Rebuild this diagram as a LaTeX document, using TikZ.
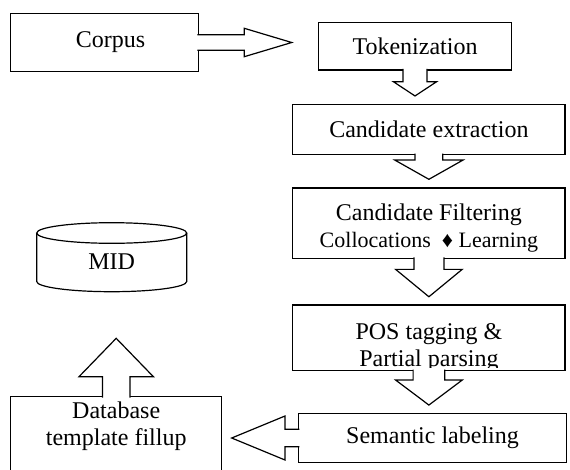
\documentclass[tikz,border=0pt]{standalone}
\usepackage{fontspec}
\setmainfont{Liberation Serif}

\tikzset{
  stepbox/.style={draw, line width=1.2pt, inner sep=0pt, outer sep=0pt, align=center},
  blockbody/.style={draw, line width=1.2pt, fill=white, line join=miter},
  every node/.style={font=\fontsize{24}{26.7}\selectfont, align=center}
}

% block arrow: start, angle, length, head length, half shaft, half head
\newcommand{\blockarrow}[6]{%
  \draw[blockbody, shift={(#1)}, rotate=#2]
    (-1,-#5) -- (#3-#4,-#5) -- (#3-#4,-#6) -- (#3,0)
    -- (#3-#4,#6) -- (#3-#4,#5) -- (-1,#5);
}

\begin{document}
\begin{tikzpicture}[x=1pt, y=-1pt]
\useasboundingbox (0,0) rectangle (570,469);
\clip (0,0) rectangle (570,469);

% steps
\node[stepbox, minimum width=187.6pt, minimum height=58.4pt] (corpus) at (104.5,42.5) {};
\node (corpusText) at ([xshift=6pt]corpus.center) {Corpus};
\node[stepbox, minimum width=193.4pt, minimum height=47.3pt] (tok) at (415,46.3) {Tokenization};
\node[stepbox, minimum width=272.3pt, minimum height=49.8pt] (cand) at (428.9,129.6) {Candidate extraction};
\node[stepbox, minimum width=272.3pt, minimum height=70.3pt] (filt) at (428.9,223.2) {};
\node (filtText) at ([yshift=-4.8pt]filt.center) {Candidate Filtering\\{\fontsize{22}{24}\selectfont Collocations\enspace♦~Learning}};
\node[stepbox, minimum width=272.3pt, minimum height=65.5pt] (pos) at (428.9,337.8) {};
\begin{scope}
  \clip (pos.north west) rectangle ([yshift=3.5pt]pos.south east);
  \node (posText) at ([yshift=-9.5pt]pos.center) {POS tagging \&\\Partial parsing};
\end{scope}
\node[stepbox, minimum width=268.4pt, minimum height=49.4pt] (sem) at (432.5,438) {Semantic labeling};
\node[stepbox, minimum width=211pt, minimum height=90pt, anchor=north] (db) at (116.2,396.7) {};
\node (dbText) at (116.2,426.5) {Database\\template fillup};

% MID store
\draw[line width=1.2pt] (36.7,233) -- (36.7,281.5)
  arc[start angle=180, end angle=0, x radius=75, y radius=10.2] -- (186.7,233);
\draw[line width=1.2pt] (111.7,233) ellipse[x radius=75, y radius=10.3];
\node (mid) at (111.7,261.7) {MID};

% block arrows
\blockarrow{corpus.east}{0}{93.4}{47.4}{7.8}{14.2}
\blockarrow{tok.south}{-90}{26}{14.3}{12}{21.7}
\blockarrow{cand.south}{-90}{24.8}{19.3}{13.9}{34.2}
\blockarrow{filt.south}{-90}{38.4}{27.4}{15}{33.3}
\blockarrow{pos.south}{-90}{34.5}{25}{15.8}{33.3}
\blockarrow{sem.west}{180}{66.6}{53.3}{8.7}{22}
\blockarrow{db.north}{90}{58.4}{38.4}{13.8}{37.2}
\end{tikzpicture}
\end{document}
